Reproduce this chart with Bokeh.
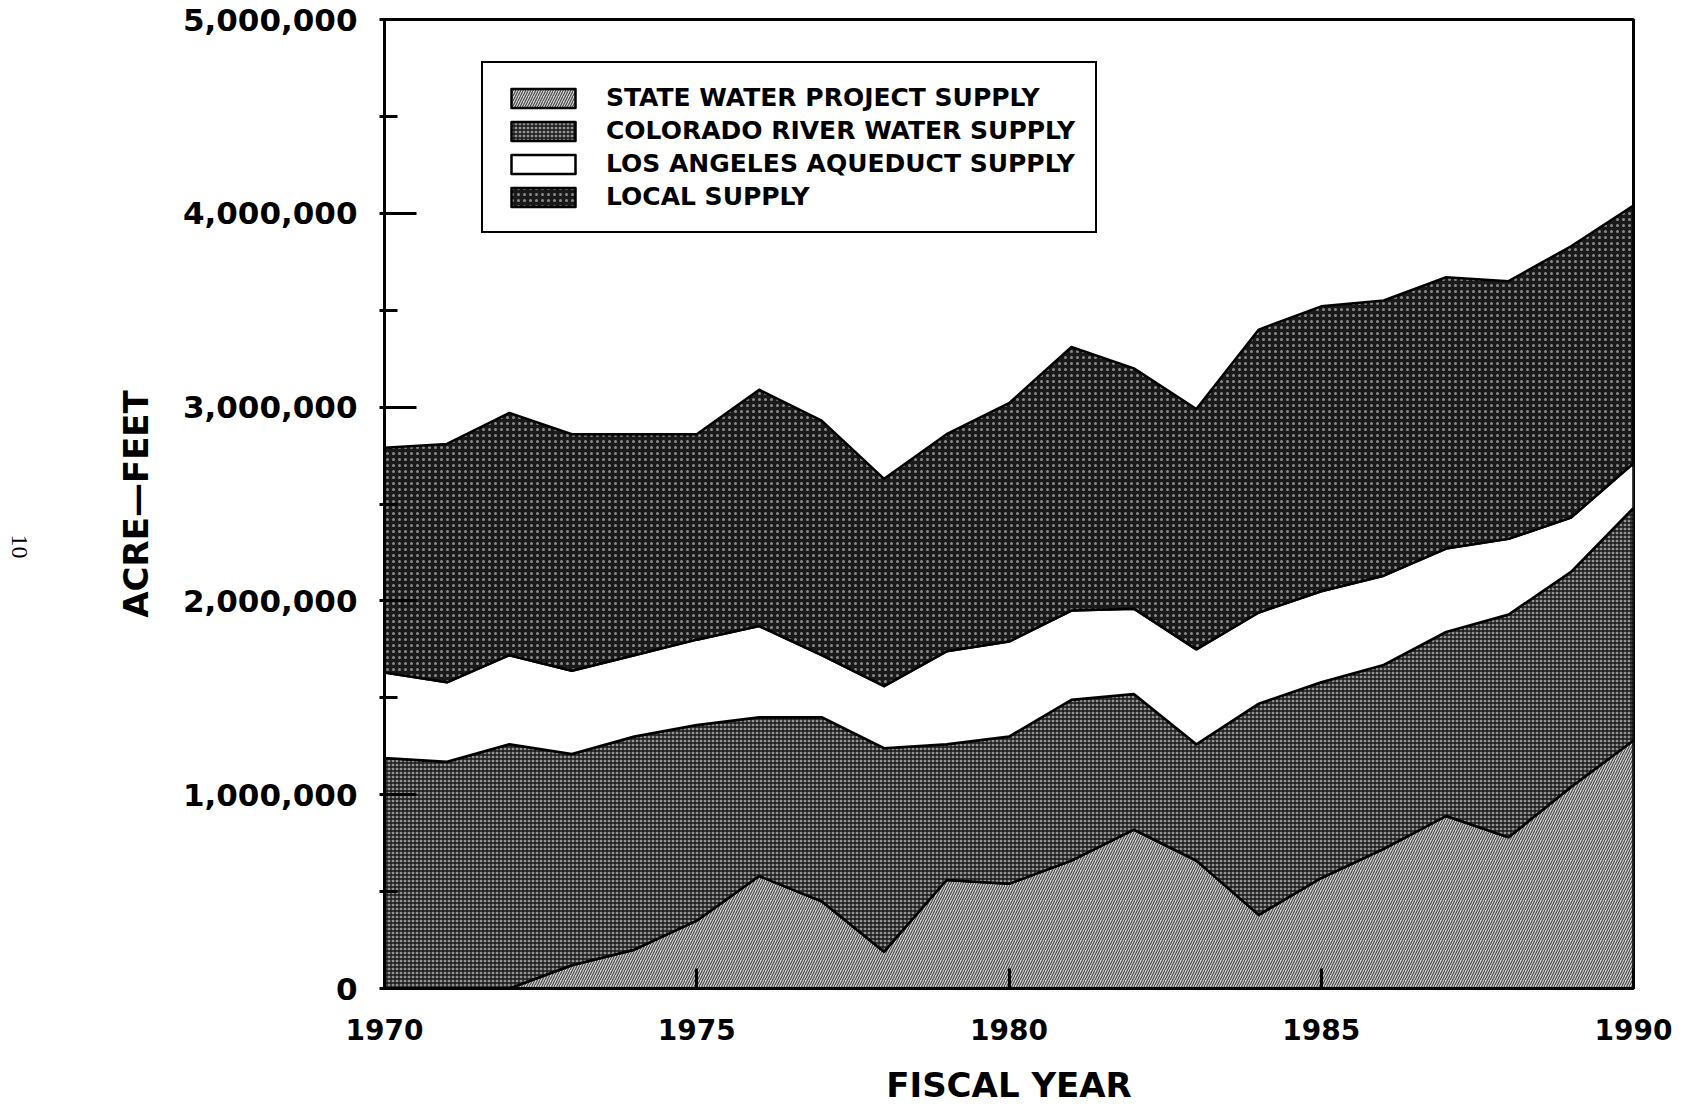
import math
import numpy as np
from bokeh.plotting import figure
from bokeh.models import (Legend, LegendItem, FixedTicker, NumeralTickFormatter,
                          LinearAxis, Range1d)
from bokeh.embed import file_html
from bokeh.resources import INLINE

# ---------------- data (acre-feet) ----------------
years = list(range(1970, 1991))
state_water_project = [0, 0, 0, 120000, 200000, 350000, 580000, 450000, 190000, 560000,
                       540000, 660000, 820000, 660000, 380000, 570000, 720000, 890000,
                       780000, 1040000, 1280000]
colorado_river = [1190000, 1170000, 1260000, 1090000, 1100000, 1010000, 820000, 950000,
                  1050000, 700000, 760000, 830000, 700000, 600000, 1090000, 1010000,
                  950000, 950000, 1150000, 1110000, 1200000]
la_aqueduct = [440000, 410000, 460000, 430000, 420000, 440000, 470000, 320000, 320000,
               480000, 490000, 460000, 440000, 490000, 470000, 470000, 460000, 430000,
               390000, 280000, 230000]
local_supply = [1160000, 1230000, 1250000, 1220000, 1140000, 1060000, 1220000, 1210000,
                1070000, 1120000, 1230000, 1360000, 1240000, 1240000, 1460000, 1470000,
                1420000, 1400000, 1330000, 1400000, 1330000]

series_names = ["STATE WATER PROJECT SUPPLY", "COLORADO RIVER WATER SUPPLY",
                "LOS ANGELES AQUEDUCT SUPPLY", "LOCAL SUPPLY"]
x_ticks = [1970, 1975, 1980, 1985, 1990]
y_ticks = [0, 1000000, 2000000, 3000000, 4000000, 5000000]
y_minor_ticks = [500000, 1500000, 2500000, 3500000, 4500000]
page_number = "10"

FONT = "DejaVu Sans"

p = figure(width=1682, height=1107, output_backend="svg", toolbar_location=None,
           x_range=Range1d(1970, 1990), y_range=Range1d(0, 5000000),
           min_border_left=384, min_border_right=49, min_border_top=19,
           min_border_bottom=117)
p.background_fill_color = "white"
p.border_fill_color = "white"
p.outline_line_color = "black"
p.outline_line_width = 3
p.xgrid.visible = False
p.ygrid.visible = False

styles = [
    dict(fill_color="#d8d8d8", hatch_pattern="/", hatch_color="#484848",
         hatch_scale=5, hatch_weight=1.2),
    dict(fill_color="#949494", hatch_pattern="+", hatch_color="#151515",
         hatch_scale=4, hatch_weight=1.3),
    dict(fill_color="white"),
    dict(fill_color="#1a1a1a", hatch_pattern=".", hatch_color="#8c8c8c",
         hatch_scale=6, hatch_weight=1.6),
]

x = np.array(years, dtype=float)
layers = [state_water_project, colorado_river, la_aqueduct, local_supply]
bottom = np.zeros(len(years))
renderers = []
for vals, st in zip(layers, styles):
    top = bottom + np.array(vals, dtype=float)
    xs = np.concatenate([x, x[::-1]])
    ys = np.concatenate([top, bottom[::-1]])
    r = p.patch(xs, ys, line_color="black", line_width=2.5, line_join="round", **st)
    renderers.append(r)
    bottom = top

# axes
for ax in (p.xaxis[0], p.yaxis[0]):
    ax.axis_line_width = 3
    ax.axis_line_color = "black"
    ax.major_tick_line_width = 3
    ax.major_tick_line_color = "black"
    ax.major_label_text_font = FONT
    ax.major_label_text_font_style = "bold"
    ax.major_label_text_color = "black"
    ax.axis_label_text_font = FONT
    ax.axis_label_text_font_style = "bold"
    ax.axis_label_text_color = "black"

xa = p.xaxis[0]
xa.ticker = FixedTicker(ticks=x_ticks)
xa.major_tick_in = 20
xa.major_tick_out = 0
xa.minor_tick_line_color = None
xa.major_label_text_font_size = "28px"
xa.major_label_standoff = 30
xa.axis_label = "FISCAL YEAR"
xa.axis_label_text_font_size = "34px"
xa.axis_label_standoff = 22
xa.axis_label_text_line_height = 0.8

ya = p.yaxis[0]
ya.ticker = FixedTicker(ticks=y_ticks, minor_ticks=y_minor_ticks)
ya.formatter = NumeralTickFormatter(format="0,0")
ya.major_tick_in = 32
ya.major_tick_out = 5
ya.minor_tick_in = 13
ya.minor_tick_out = 5
ya.minor_tick_line_width = 3
ya.minor_tick_line_color = "black"
ya.major_label_text_font_size = "31px"
ya.major_label_standoff = 22
ya.axis_label = "ACRE\u2014FEET"
ya.axis_label_text_font_size = "34px"
ya.axis_label_standoff = 24

# scanned page number in the left margin, drawn as the label of a bare extra axis
page_pos = 5000000 * (990 - 559) / 971.0
p.extra_y_ranges = {"page": Range1d(0, 5000000)}
pg_axis = LinearAxis(y_range_name="page", ticker=FixedTicker(ticks=[page_pos]),
                     major_label_overrides={page_pos: page_number},
                     axis_line_color=None, major_tick_line_color=None,
                     minor_tick_line_color=None, major_label_standoff=87,
                     major_label_text_font="Liberation Serif",
                     major_label_text_font_size="24px",
                     major_label_text_color="black",
                     major_label_orientation=-math.pi / 2)
p.add_layout(pg_axis, "left")

legend = Legend(
    items=[LegendItem(label=n, renderers=[r]) for n, r in zip(series_names, renderers)],
    location=(97, 755),
    orientation="vertical",
    border_line_color="black",
    border_line_width=2.5,
    border_line_alpha=1.0,
    background_fill_color="white",
    background_fill_alpha=1.0,
    label_text_font=FONT,
    label_text_font_style="bold",
    label_text_font_size="25px",
    label_text_color="black",
    label_standoff=23,
    glyph_width=80,
    glyph_height=24,
    label_height=26,
    spacing=4,
    padding=20,
    margin=0,
)
p.add_layout(legend)

open("out.html", "w").write(file_html(p, INLINE))
